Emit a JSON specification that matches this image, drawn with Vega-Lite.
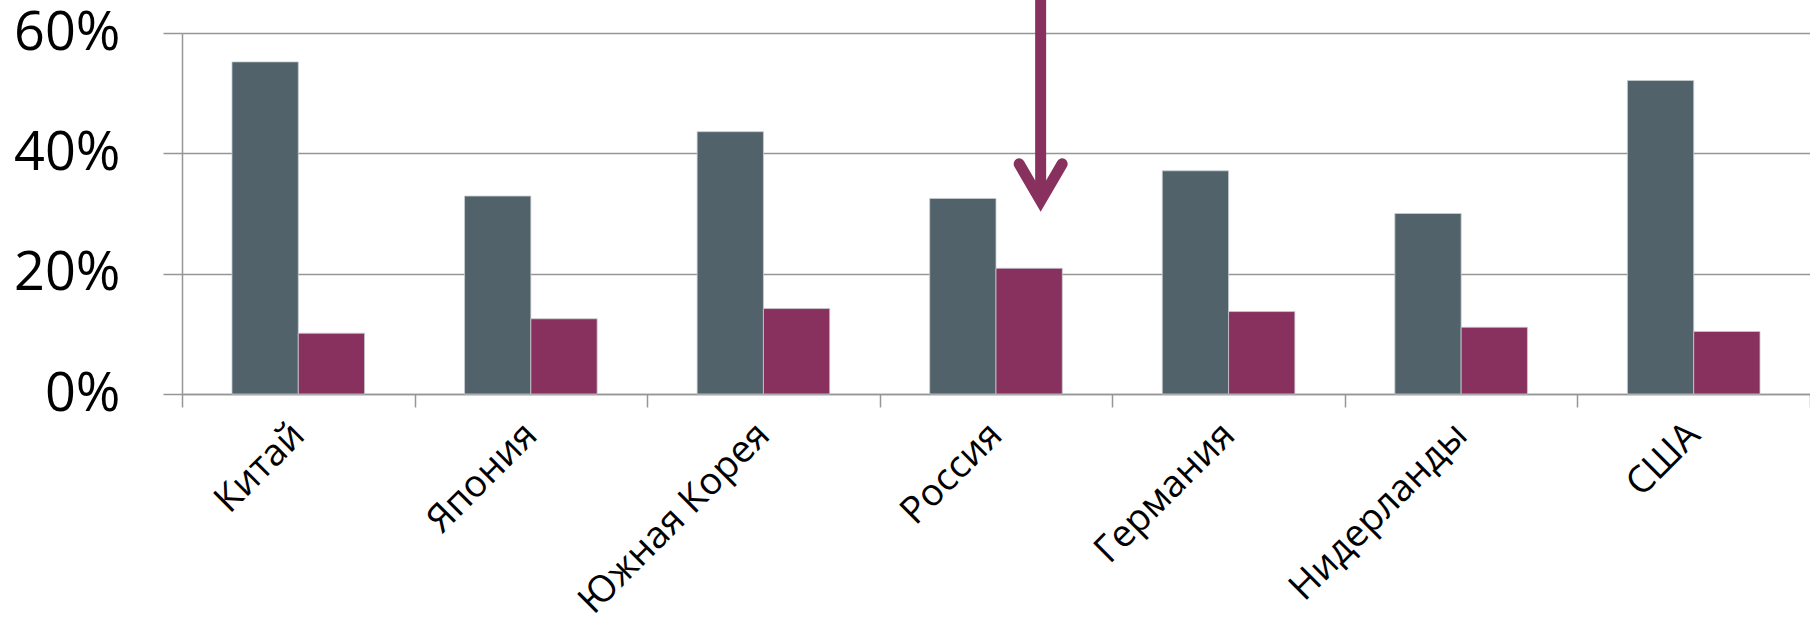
{
  "$schema": "https://vega.github.io/schema/vega-lite/v6.json",
  "width": 1628,
  "height": 361,
  "autosize": {"type": "none"},
  "padding": {"left": 182, "top": 33, "right": 0, "bottom": 230},
  "background": "white",
  "config": {
    "view": {"stroke": null},
    "font": "Open Sans",
    "axis": {"labelFont": "Open Sans", "labelColor": "#000000", "domainColor": "#969696", "tickColor": "#969696", "gridColor": "#969696", "domainWidth": 1.5, "tickWidth": 1.5, "gridWidth": 1.5}
  },
  "datasets": {
    "bars": [
      {"country": "Китай", "series": "a", "value": 0.552},
      {"country": "Китай", "series": "b", "value": 0.101},
      {"country": "Япония", "series": "a", "value": 0.329},
      {"country": "Япония", "series": "b", "value": 0.125},
      {"country": "Южная Корея", "series": "a", "value": 0.436},
      {"country": "Южная Корея", "series": "b", "value": 0.142},
      {"country": "Россия", "series": "a", "value": 0.325},
      {"country": "Россия", "series": "b", "value": 0.209},
      {"country": "Германия", "series": "a", "value": 0.371},
      {"country": "Германия", "series": "b", "value": 0.137},
      {"country": "Нидерланды", "series": "a", "value": 0.300},
      {"country": "Нидерланды", "series": "b", "value": 0.111},
      {"country": "США", "series": "a", "value": 0.521},
      {"country": "США", "series": "b", "value": 0.104}
    ],
    "arrow": [
      {"country": "Россия", "tip": 0.321, "top": 0.66}
    ]
  },
  "layer": [
    {
      "data": {"name": "bars"},
      "mark": {"type": "bar", "stroke": "#c8cdd0", "strokeWidth": 0.8},
      "encoding": {
        "x": {
          "field": "country", "type": "nominal",
          "sort": ["Китай", "Япония", "Южная Корея", "Россия", "Германия", "Нидерланды", "США"],
          "scale": {"paddingInner": 0, "paddingOuter": 0},
          "axis": {"title": null, "labelAngle": -45, "labelFontSize": 37.5, "labelAlign": "right", "labelBaseline": "middle", "labelPadding": 22, "labelLimit": 0, "tickSize": 13, "tickBand": "extent", "domain": true, "grid": false}
        },
        "xOffset": {"field": "series", "type": "nominal", "scale": {"paddingInner": 0, "paddingOuter": 0.754}},
        "y": {
          "field": "value", "type": "quantitative",
          "scale": {"domain": [0, 0.6], "nice": false},
          "axis": {"title": null, "format": ".0%", "values": [0, 0.2, 0.4, 0.6], "labelFontSize": 54, "labelPadding": 43, "tickSize": 19, "grid": true, "domain": true}
        },
        "color": {"field": "series", "type": "nominal", "scale": {"domain": ["a", "b"], "range": ["#52626b", "#88305e"]}, "legend": null}
      }
    },
    {
      "data": {"name": "arrow"},
      "mark": {"type": "rule", "color": "#88305e", "strokeWidth": 11, "strokeCap": "butt", "clip": false},
      "encoding": {
        "x": {"field": "country", "type": "nominal", "sort": ["Китай", "Япония", "Южная Корея", "Россия", "Германия", "Нидерланды", "США"], "bandPosition": 0.692},
        "y": {"field": "tip", "type": "quantitative"},
        "y2": {"field": "top"}
      }
    },
    {
      "data": {"name": "arrow"},
      "mark": {"type": "point", "shape": "M-0.581,-1L0,0L0.581,-1", "size": 5476, "filled": false, "stroke": "#88305e", "strokeWidth": 11, "strokeCap": "round", "strokeJoin": "miter", "opacity": 1, "clip": false},
      "encoding": {
        "x": {"field": "country", "type": "nominal", "sort": ["Китай", "Япония", "Южная Корея", "Россия", "Германия", "Нидерланды", "США"], "bandPosition": 0.692},
        "y": {"field": "tip", "type": "quantitative"}
      }
    }
  ]
}
